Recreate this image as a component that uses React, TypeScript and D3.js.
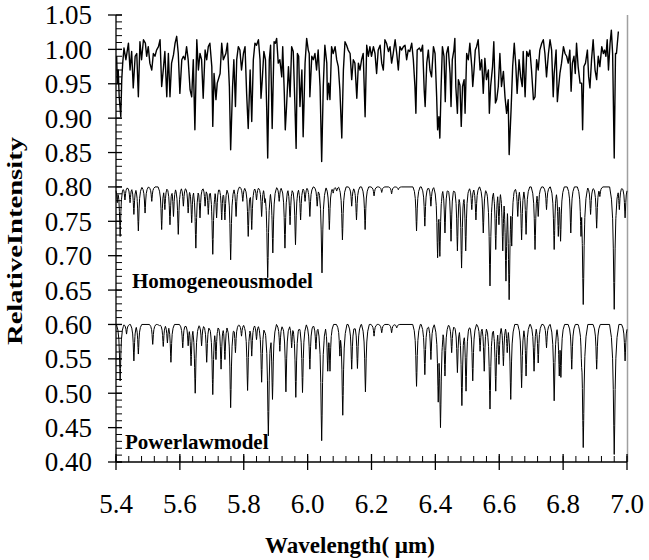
import React from "react";
import * as d3 from "d3";

// ---------- data ----------
const xTickValues = [5.4, 5.6, 5.8, 6.0, 6.2, 6.4, 6.6, 6.8, 7.0];
const yTickValues = [0.4, 0.45, 0.5, 0.55, 0.6, 0.65, 0.7, 0.75, 0.8, 0.85, 0.9, 0.95, 1.0, 1.05];

// observed spectrum: [wavelength (µm), relative intensity]
const observed: [number, number][] = [
  [5.402,0.990],[5.404,0.951],[5.407,0.970],[5.410,0.931],[5.415,0.902],[5.418,0.956],[5.421,0.980],[5.425,1.002],[5.431,0.985],[5.439,1.009],
  [5.444,0.970],[5.449,0.997],[5.454,0.944],[5.460,0.990],[5.465,0.994],[5.470,0.931],[5.475,1.011],[5.480,0.985],[5.486,1.014],[5.492,1.009],
  [5.496,0.990],[5.501,1.004],[5.506,0.980],[5.512,0.970],[5.517,0.994],[5.522,0.990],[5.527,0.999],[5.533,1.004],[5.538,1.014],[5.543,0.946],
  [5.548,0.970],[5.553,0.997],[5.559,0.931],[5.564,0.994],[5.569,0.931],[5.574,0.980],[5.580,0.992],[5.585,1.009],[5.590,1.019],[5.595,0.994],
  [5.600,0.936],[5.606,0.985],[5.611,0.990],[5.616,0.985],[5.621,1.004],[5.626,0.985],[5.632,0.941],[5.637,0.931],[5.642,0.985],[5.647,0.883],
  [5.653,1.014],[5.658,0.970],[5.663,0.994],[5.668,0.985],[5.673,0.929],[5.679,0.999],[5.684,0.985],[5.689,1.004],[5.694,1.009],[5.700,0.975],
  [5.703,0.888],[5.707,0.965],[5.713,0.927],[5.717,0.951],[5.726,0.965],[5.731,1.009],[5.736,0.985],[5.744,0.994],[5.749,1.009],[5.755,0.946],
  [5.759,0.854],[5.765,0.946],[5.769,0.985],[5.774,0.917],[5.778,0.985],[5.783,1.004],[5.788,0.999],
  [5.793,0.970],[5.799,0.994],[5.804,1.004],[5.809,0.936],[5.814,0.885],[5.820,0.970],[5.825,0.895],[5.830,0.985],[5.835,1.009],[5.840,1.006],
  [5.846,1.014],[5.851,0.985],[5.854,0.929],[5.858,0.956],[5.863,0.997],[5.868,0.985],[5.872,0.912],[5.875,0.842],[5.880,0.985],[5.884,1.006],
  [5.889,0.885],[5.895,1.011],[5.899,1.009],[5.903,1.016],[5.908,0.980],[5.913,0.985],[5.919,0.960],[5.922,1.004],[5.927,0.936],[5.930,0.883],
  [5.934,0.917],[5.940,0.975],[5.945,0.931],[5.950,1.004],[5.955,0.997],[5.960,0.922],[5.964,0.856],[5.968,0.994],[5.972,0.990],[5.976,0.917],
  [5.982,0.970],[5.986,0.873],[5.992,0.980],[5.997,1.016],[6.002,0.999],[6.005,0.994],[6.007,0.931],[6.013,0.990],[6.018,0.985],[6.023,0.994],
  [6.028,0.970],[6.033,0.999],[6.039,0.946],[6.044,0.837],[6.049,0.946],[6.054,1.006],[6.060,0.980],[6.062,0.927],[6.066,0.951],[6.070,0.927],
  [6.075,1.004],[6.080,0.994],[6.086,1.004],[6.091,0.985],[6.096,0.975],[6.101,0.941],[6.107,0.871],[6.112,0.970],[6.117,1.011],[6.122,1.006],
  [6.127,0.999],[6.133,0.994],[6.138,0.956],[6.143,0.985],[6.148,0.980],[6.154,0.929],[6.159,0.980],[6.164,0.970],[6.169,0.985],[6.174,0.994],
  [6.180,0.902],[6.185,1.006],[6.190,0.990],[6.195,1.004],
  [6.200,0.990],[6.206,1.004],[6.211,0.994],[6.216,0.965],[6.221,0.999],[6.227,1.006],[6.232,0.980],[6.237,0.970],[6.242,1.014],[6.247,1.009],
  [6.253,0.997],[6.258,1.004],[6.263,0.980],[6.268,0.994],[6.274,1.014],[6.279,0.994],[6.284,0.970],[6.289,1.004],[6.294,0.999],[6.300,1.004],
  [6.305,1.006],[6.310,0.985],[6.315,0.999],[6.320,0.997],[6.326,1.009],[6.331,0.985],[6.336,0.946],[6.339,0.907],[6.343,0.999],[6.350,1.002],
  [6.355,0.997],[6.360,1.006],[6.365,0.941],[6.368,0.917],[6.373,0.980],[6.378,0.999],[6.383,0.970],[6.388,0.960],[6.394,1.004],[6.399,0.994],
  [6.404,0.931],[6.407,0.883],[6.411,0.902],[6.414,0.871],[6.418,0.946],[6.422,1.004],[6.427,0.990],[6.431,0.924],[6.435,0.994],[6.440,1.004],
  [6.446,0.965],[6.449,0.917],[6.453,0.985],[6.458,0.999],[6.461,1.016],[6.464,0.946],[6.469,0.907],[6.472,0.956],[6.477,0.948],[6.481,0.888],
  [6.485,0.946],[6.490,0.956],[6.493,0.907],[6.498,0.994],[6.503,0.985],[6.508,1.009],[6.514,0.975],[6.517,0.946],[6.521,0.970],[6.525,0.999],
  [6.529,1.004],[6.534,1.014],[6.540,0.970],[6.545,0.985],[6.550,0.936],[6.555,0.987],[6.560,0.956],[6.566,0.970],[6.569,0.907],[6.573,0.946],
  [6.579,0.975],[6.583,1.011],[6.588,0.922],[6.592,0.927],[6.597,0.946],[6.602,0.994],
  [6.607,0.946],[6.613,0.968],[6.618,0.931],[6.623,0.907],[6.628,0.927],[6.631,0.847],[6.637,0.912],[6.642,0.975],[6.647,1.009],[6.652,0.975],
  [6.656,0.936],[6.662,0.985],[6.667,0.960],[6.672,0.946],[6.675,0.997],[6.681,0.931],[6.686,0.997],[6.691,0.990],[6.696,0.999],[6.701,0.970],
  [6.707,0.927],[6.712,0.931],[6.717,0.985],[6.722,0.970],[6.727,0.999],[6.733,1.009],[6.738,1.014],[6.743,0.994],[6.748,0.960],[6.754,0.994],
  [6.759,1.014],[6.764,0.999],[6.769,0.931],[6.772,0.965],[6.778,0.999],[6.782,0.924],[6.786,0.946],[6.790,0.965],[6.795,0.980],[6.801,1.004],
  [6.806,0.994],[6.811,0.990],[6.816,0.980],[6.821,0.999],[6.825,0.939],[6.829,0.980],[6.834,0.990],[6.838,0.965],[6.842,1.009],[6.847,0.975],
  [6.853,0.951],[6.858,0.951],[6.861,0.883],[6.865,0.975],[6.870,0.980],[6.876,0.999],[6.880,0.960],[6.884,0.944],[6.889,0.985],[6.894,1.014],
  [6.900,0.970],[6.905,0.956],[6.910,0.990],[6.915,0.975],[6.921,1.004],[6.926,0.994],[6.930,0.999],[6.934,0.990],[6.938,1.014],[6.942,0.970],
  [6.947,1.009],[6.951,1.028],[6.955,0.994],[6.960,0.842],[6.964,0.994],[6.967,0.994],[6.973,1.026],
];

// Homogeneous model: continuum and absorption lines [centre (µm), minimum intensity]
const homContinuum = 0.8;
const homLines: [number, number][] = [
  [5.404,0.777],[5.413,0.728],[5.428,0.781],[5.444,0.777],[5.456,0.760],[5.470,0.736],[5.491,0.762],[5.512,0.779],[5.543,0.738],[5.553,0.767],
  [5.569,0.745],[5.580,0.757],[5.595,0.731],[5.611,0.772],[5.626,0.762],[5.637,0.748],[5.650,0.711],[5.663,0.755],[5.679,0.772],[5.689,0.760],
  [5.703,0.702],[5.715,0.755],[5.731,0.752],[5.741,0.752],[5.759,0.694],[5.776,0.757],[5.797,0.779],
  [5.814,0.728],[5.825,0.738],[5.840,0.781],[5.856,0.757],[5.866,0.777],[5.875,0.668],[5.891,0.704],[5.911,0.779],[5.929,0.711],[5.945,0.745],
  [5.962,0.716],[5.978,0.752],[5.992,0.779],[6.007,0.757],[6.030,0.772],[6.045,0.675],[6.068,0.738],[6.080,0.791],[6.091,0.794],[6.109,0.723],
  [6.138,0.772],[6.153,0.752],[6.180,0.738],[6.208,0.787],[6.232,0.792],[6.263,0.790],[6.284,0.796],
  [6.341,0.736],[6.367,0.743],[6.386,0.772],[6.407,0.697],[6.414,0.699],[6.430,0.733],[6.449,0.721],[6.469,0.707],[6.482,0.682],[6.495,0.707],
  [6.514,0.767],[6.527,0.752],[6.550,0.733],[6.571,0.656],[6.589,0.709],[6.599,0.745],
  [6.611,0.707],[6.621,0.663],[6.631,0.636],[6.639,0.714],[6.658,0.757],[6.670,0.723],[6.684,0.731],[6.712,0.709],[6.722,0.757],[6.748,0.767],
  [6.772,0.709],[6.785,0.728],[6.792,0.721],[6.824,0.733],[6.856,0.728],[6.863,0.629],[6.886,0.760],[6.905,0.740],[6.915,0.786],[6.960,0.622],
  [6.976,0.767],[6.994,0.755],
];

// Power-law model
const plContinuum = 0.6;
const plLines: [number, number][] = [
  [5.413,0.518],[5.433,0.586],[5.456,0.547],[5.470,0.557],[5.515,0.571],[5.536,0.598],[5.548,0.568],[5.561,0.573],[5.572,0.545],[5.609,0.566],
  [5.626,0.569],[5.635,0.540],[5.648,0.500],[5.668,0.569],[5.684,0.545],[5.703,0.498],[5.713,0.549],[5.729,0.535],[5.741,0.549],[5.759,0.479],
  [5.774,0.559],[5.793,0.583],[5.812,0.504],[5.825,0.554],[5.840,0.578],[5.856,0.516],[5.877,0.438],[5.890,0.491],[5.913,0.561],[5.932,0.502],
  [5.950,0.566],[5.963,0.494],[5.984,0.501],[6.007,0.535],[6.026,0.564],[6.044,0.431],[6.063,0.532],[6.070,0.532],[6.101,0.554],[6.110,0.468],
  [6.138,0.535],[6.156,0.536],[6.181,0.502],
  [6.208,0.583],[6.232,0.588],[6.263,0.588],[6.279,0.595],[6.341,0.510],[6.367,0.527],[6.386,0.549],[6.409,0.487],[6.416,0.450],[6.430,0.525],
  [6.451,0.559],[6.469,0.530],[6.483,0.482],[6.496,0.503],[6.517,0.518],[6.540,0.561],[6.553,0.532],[6.571,0.477],[6.589,0.503],[6.599,0.542],
  [6.613,0.540],[6.625,0.559],[6.636,0.491],[6.670,0.508],[6.684,0.525],[6.709,0.532],[6.722,0.544],[6.748,0.566],[6.772,0.489],[6.788,0.525],
  [6.793,0.523],[6.827,0.535],[6.858,0.537],[6.863,0.421],[6.905,0.535],[6.960,0.411],[6.994,0.547],
];

// ---------- layout ----------
const W = 649;
const H = 560;
const X0 = 116, X1 = 627, Y0 = 462, Y1 = 15;
const FONT = "'Liberation Serif', 'Times New Roman', serif";

// line-profile shape used to draw each absorption line (fraction of half-width, fraction of depth)
const PROFILE: [number, number][] = [[0, 1], [0.1, 0.78], [0.2, 0.5], [0.35, 0.26], [0.6, 0.1], [1, 0]];

function profileAt(f: number): number {
  if (f >= 1) return 0;
  for (let i = 1; i < PROFILE.length; i++) {
    const [f0, v0] = PROFILE[i - 1];
    const [f1, v1] = PROFILE[i];
    if (f <= f1) return v0 + ((v1 - v0) * (f - f0)) / (f1 - f0);
  }
  return 0;
}

function modelPoints(lines: [number, number][], cont: number): [number, number][] {
  const hw = (v: number) => 0.0095 + 0.027 * (cont - v);
  const xs: number[] = [5.4, 7.0];
  lines.forEach(([c, v]) => {
    PROFILE.forEach(([f]) => {
      xs.push(c - f * hw(v), c + f * hw(v));
    });
  });
  const sorted = Array.from(new Set(xs.filter((x) => x >= 5.4 && x <= 7.0))).sort((a, b) => a - b);
  return sorted.map((x) => {
    let depth = 0;
    lines.forEach(([c, v]) => {
      const d = (cont - v) * profileAt(Math.abs(x - c) / hw(v));
      if (d > depth) depth = d;
    });
    return [x, cont - depth] as [number, number];
  });
}

export default function App() {
  const x = d3.scaleLinear().domain([5.4, 7.0]).range([X0, X1]);
  const y = d3.scaleLinear().domain([0.4, 1.05]).range([Y0, Y1]);
  const line = d3
    .line<[number, number]>()
    .x((d) => x(d[0]))
    .y((d) => y(d[1]));

  const xMinor = d3.range(0, 41).map((i) => 5.4 + i * 0.04);
  const yMinor = d3.range(0, 66).map((i) => 0.4 + i * 0.01);

  return (
    <svg
      width={W}
      height={H}
      style={{ position: "absolute", left: 0, top: 0, background: "#fff" }}
      fontFamily={FONT}
    >
      <rect x={0} y={0} width={W} height={H} fill="#fff" />
      {/* right plot border */}
      <line x1={X1 + 0.5} x2={X1 + 0.5} y1={Y1} y2={Y0} stroke="#a0a0a0" strokeWidth={1.5} />

      {/* spectra */}
      <path d={line(observed) || ""} fill="none" stroke="#000" strokeWidth={1.4} strokeLinejoin="round" />
      <path d={line(modelPoints(homLines, homContinuum)) || ""} fill="none" stroke="#000" strokeWidth={1} strokeLinejoin="round" />
      <path d={line(modelPoints(plLines, plContinuum)) || ""} fill="none" stroke="#000" strokeWidth={1} strokeLinejoin="round" />

      {/* y axis */}
      <line x1={X0} x2={X0} y1={Y1} y2={Y0} stroke="#000" strokeWidth={1.3} />
      {yMinor.map((v, i) => (
        <line key={"ym" + i} x1={X0} x2={X0 + 6} y1={y(v)} y2={y(v)} stroke="#000" strokeWidth={1} />
      ))}
      {yTickValues.map((v) => (
        <g key={"yt" + v}>
          <line x1={X0 - 8} x2={X0 + 6} y1={y(v)} y2={y(v)} stroke="#000" strokeWidth={1.3} />
          <text x={92} y={y(v)} dy="0.35em" textAnchor="end" fontSize={27} fill="#000">
            {v.toFixed(2)}
          </text>
        </g>
      ))}

      {/* x axis */}
      <line x1={X0} x2={X1} y1={Y0} y2={Y0} stroke="#000" strokeWidth={1.3} />
      {xMinor.map((v, i) => (
        <line key={"xm" + i} x1={x(v)} x2={x(v)} y1={Y0 - 6} y2={Y0} stroke="#000" strokeWidth={1} />
      ))}
      {xTickValues.map((v) => (
        <g key={"xt" + v}>
          <line x1={x(v)} x2={x(v)} y1={Y0 - 8} y2={Y0 + 8} stroke="#000" strokeWidth={1.3} />
          <text x={x(v)} y={513} textAnchor="middle" fontSize={27} fill="#000">
            {v.toFixed(1)}
          </text>
        </g>
      ))}

      {/* axis titles */}
      <text x={350} y={553} textAnchor="middle" fontSize={23} fontWeight="bold" fill="#000">
        Wavelength( µm)
      </text>
      <text
        transform="translate(22,241) rotate(-90)"
        textAnchor="middle"
        fontSize={20}
        fontWeight="bold"
        fill="#000"
        textLength={208}
        lengthAdjust="spacingAndGlyphs"
      >
        RelativeIntensity
      </text>

      {/* series labels */}
      <text x={132} y={288} fontSize={21} fontWeight="bold" fill="#000">
        Homogeneousmodel
      </text>
      <text x={125} y={449} fontSize={21} fontWeight="bold" fill="#000">
        Powerlawmodel
      </text>
    </svg>
  );
}
